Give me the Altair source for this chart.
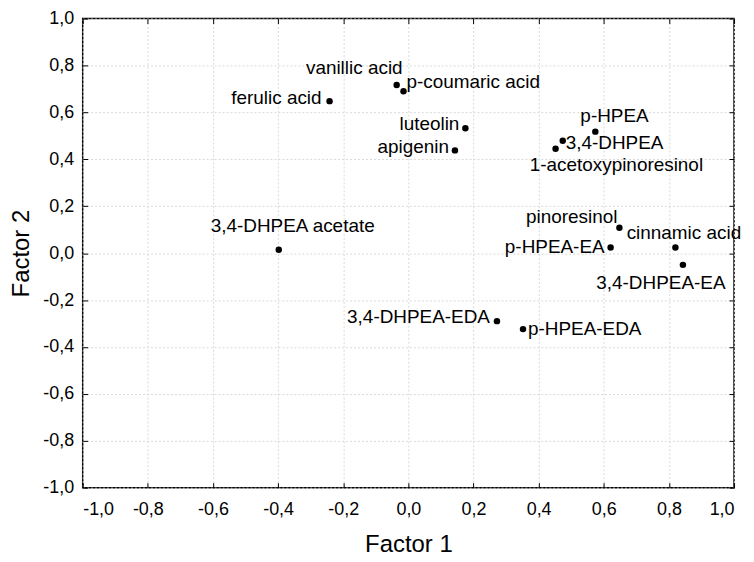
import altair as alt
import pandas as pd

# ---- data ----
labels = [
    "ferulic acid", "vanillic acid", "p-coumaric acid", "luteolin", "apigenin",
    "p-HPEA", "3,4-DHPEA", "1-acetoxypinoresinol", "pinoresinol", "cinnamic acid",
    "p-HPEA-EA", "3,4-DHPEA-EA", "3,4-DHPEA acetate", "3,4-DHPEA-EDA", "p-HPEA-EDA",
]
factor1 = [-0.242, -0.036, -0.015, 0.175, 0.143,
           0.574, 0.474, 0.452, 0.648, 0.820,
           0.621, 0.843, -0.398, 0.272, 0.352]
factor2 = [0.648, 0.717, 0.690, 0.532, 0.438,
           0.518, 0.479, 0.445, 0.108, 0.024,
           0.024, -0.050, 0.014, -0.290, -0.324]
tick_values = [-1.0, -0.8, -0.6, -0.4, -0.2, 0.0, 0.2, 0.4, 0.6, 0.8, 1.0]

# ---- label placement styles (align, dx, dy) ----
label_style = {
    "ferulic acid": ("right", -8, -3),
    "vanillic acid": ("right", 6, -17),
    "p-coumaric acid": ("left", 3, -9),
    "luteolin": ("right", -6, -4),
    "apigenin": ("right", -6, -3),
    "p-HPEA": ("left", -15, -16),
    "3,4-DHPEA": ("left", 3, 2),
    "1-acetoxypinoresinol": ("left", -26, 16),
    "pinoresinol": ("right", -2, -11),
    "cinnamic acid": ("left", -49, -15),
    "p-HPEA-EA": ("right", -6, 0),
    "3,4-DHPEA-EA": ("left", -87, 18),
    "3,4-DHPEA acetate": ("center", 14, -24),
    "3,4-DHPEA-EDA": ("right", -7, -4),
    "p-HPEA-EDA": ("left", 5, 0),
}

df = pd.DataFrame({"label": labels, "f1": factor1, "f2": factor2})

FONT = "Liberation Sans"
label_expr = "replace(replace(format(datum.value, '.1f'), '.', ','), '\u2212', '-')"

xscale = alt.Scale(domain=[-1, 1], nice=False, zero=False)
yscale = alt.Scale(domain=[-1, 1], nice=False, zero=False)

common_axis = dict(
    values=tick_values, labelExpr=label_expr, domain=False,
    tickSize=5, offset=-5, tickColor="black", tickWidth=1,
    labelFont=FONT, labelFontSize=18, labelColor="black",
    titleFont=FONT, titleFontSize=24, titleFontWeight="normal", titleColor="black",
    grid=True, gridColor="#d9d9d9", gridDash=[2, 2], gridWidth=1,
)

x_bottom = alt.Axis(orient="bottom", title="Factor 1", labelPadding=13, titlePadding=14,
                    **common_axis)
y_left = alt.Axis(orient="left", title="Factor 2", labelPadding=9, titlePadding=9,
                  **common_axis)

x_top = alt.Axis(orient="top", values=tick_values, labels=False, domain=False, title=None,
                 tickSize=5, offset=-5, tickColor="black", grid=False)
y_right = alt.Axis(orient="right", values=tick_values, labels=False, domain=False, title=None,
                   tickSize=5, offset=-5, tickColor="black", grid=False)

base = alt.Chart(df)

points = base.mark_circle(size=42, color="black", opacity=1).encode(
    x=alt.X("f1:Q", scale=xscale, axis=x_bottom),
    y=alt.Y("f2:Q", scale=yscale, axis=y_left),
)

frame_ticks = base.mark_circle(size=0, opacity=0).encode(
    x=alt.X("f1:Q", scale=xscale, axis=x_top),
    y=alt.Y("f2:Q", scale=yscale, axis=y_right),
)

text_layers = []
for lab in labels:
    align, dx, dy = label_style[lab]
    text_layers.append(
        base.transform_filter(alt.datum.label == lab).mark_text(
            align=align, baseline="middle", dx=dx, dy=dy,
            font=FONT, fontSize=19, color="black",
        ).encode(
            x=alt.X("f1:Q", scale=xscale, axis=None),
            y=alt.Y("f2:Q", scale=yscale, axis=None),
            text="label:N",
        )
    )

chart = alt.layer(points, frame_ticks, *text_layers).resolve_axis(
    x="independent", y="independent"
).properties(
    width=654, height=471,
    autosize=alt.AutoSizeParams(type="none"),
    padding={"left": 75, "top": 9.5, "right": 12, "bottom": 72},
).configure_view(stroke="black", strokeWidth=1.5)

chart.save("out.html", embed_options={"renderer": "svg", "actions": False})
